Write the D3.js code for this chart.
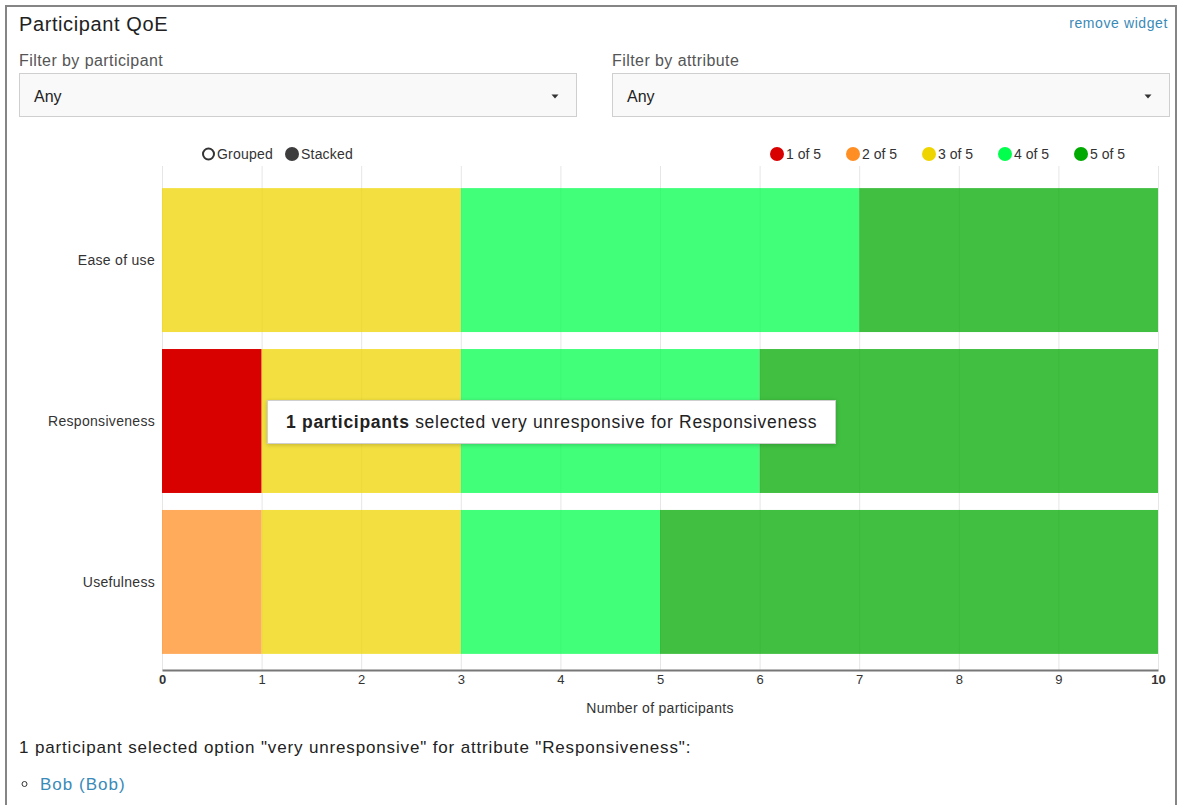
<!DOCTYPE html>
<html>
<head>
<meta charset="utf-8">
<script src="https://cdn.jsdelivr.net/npm/d3@7"></script>
<style>
  html, body { margin: 0; padding: 0; background: #fff; }
  svg { display: block; font-family: "Liberation Sans", Arial, sans-serif; }
</style>
</head>
<body>
<svg id="chart" width="1178" height="805"></svg>
<script>
// Survey attributes (rows) and rating levels (stack segments)
const attributes = ["Ease of use", "Responsiveness", "Usefulness"];
const ratingLevels = ["1 of 5", "2 of 5", "3 of 5", "4 of 5", "5 of 5"];
const levelColors = ["#d90000", "#ff8f24", "#efd500", "#03ff4d", "#00aa00"];

// Number of participants per rating, one array per level (order follows attributes)
const rating1 = [0, 1, 0];
const rating2 = [0, 0, 1];
const rating3 = [3, 2, 2];
const rating4 = [4, 3, 2];
const rating5 = [3, 4, 5];

const xTicks = [0, 1, 2, 3, 4, 5, 6, 7, 8, 9, 10];
const xMax = 10;

// Highlighted (hovered) segment
const hovered = { attr: "Responsiveness", level: "1 of 5" };

const rows = attributes.map((a, i) => ({
  attribute: a,
  "1 of 5": rating1[i], "2 of 5": rating2[i], "3 of 5": rating3[i],
  "4 of 5": rating4[i], "5 of 5": rating5[i]
}));

const svg = d3.select("#chart");

// widget frame
svg.append("path")
  .attr("d", "M6,805 V6 H1176 V805")
  .attr("fill", "none").attr("stroke", "#858585").attr("stroke-width", 2);

// header
svg.append("text").attr("x", 19).attr("y", 31)
  .attr("font-size", 20).attr("letter-spacing", 0.6).attr("fill", "#222")
  .text("Participant QoE");
svg.append("text").attr("x", 1168).attr("y", 28).attr("text-anchor", "end")
  .attr("font-size", 14).attr("letter-spacing", 0.6).attr("fill", "#3a8ab8")
  .text("remove widget");

// filter dropdowns
const filters = [
  { label: "Filter by participant", x: 19, w: 557 },
  { label: "Filter by attribute", x: 612, w: 557 }
];
filters.forEach(f => {
  svg.append("text").attr("x", f.x).attr("y", 66)
    .attr("font-size", 16).attr("letter-spacing", 0.43).attr("fill", "#555")
    .text(f.label);
  svg.append("rect").attr("x", f.x + 0.5).attr("y", 73.5)
    .attr("width", f.w).attr("height", 43)
    .attr("fill", "#f9f9f9").attr("stroke", "#cfcfcf");
  svg.append("text").attr("x", f.x + 15).attr("y", 102)
    .attr("font-size", 16).attr("fill", "#222").text("Any");
  const cx = f.x + f.w - 21;
  svg.append("path")
    .attr("d", `M${cx - 3.5},94.5 L${cx + 3.5},94.5 L${cx},98.5 Z`)
    .attr("fill", "#333");
});

// scales
const x = d3.scaleLinear().domain([0, xMax]).range([162, 1158]);
const y = d3.scaleBand().domain(attributes).range([172, 670])
  .paddingInner(0.1056).paddingOuter(0.1);
const color = d3.scaleOrdinal().domain(ratingLevels).range(levelColors);

// vertical grid
svg.append("g").selectAll("line").data(xTicks).join("line")
  .attr("x1", d => x(d) + 0.5).attr("x2", d => x(d) + 0.5)
  .attr("y1", 166).attr("y2", 670)
  .attr("stroke", "#e6e6e6").attr("stroke-width", 1);

// stacked bars
const series = d3.stack().keys(ratingLevels)(rows);
const layers = svg.append("g").selectAll("g").data(series).join("g")
  .attr("fill", d => color(d.key));
layers.selectAll("rect").data(d => d.map(v => ({ v, key: d.key }))).join("rect")
  .attr("x", d => x(d.v[0]))
  .attr("y", d => y(d.v.data.attribute))
  .attr("width", d => x(d.v[1]) - x(d.v[0]))
  .attr("height", y.bandwidth())
  .attr("fill-opacity", d =>
    d.key === hovered.level && d.v.data.attribute === hovered.attr ? 1 : 0.75);

// x axis
const xAxis = svg.append("g").attr("transform", "translate(0,670)")
  .call(d3.axisBottom(x).tickValues(xTicks).tickSize(0).tickPadding(5));
xAxis.select(".domain").attr("stroke", "#777").attr("stroke-width", 2);
xAxis.selectAll(".tick text")
  .attr("font-family", "Liberation Sans, Arial, sans-serif")
  .attr("font-size", 13).attr("fill", "#333")
  .attr("font-weight", d => (d === 0 || d === xMax) ? "bold" : "normal");

svg.append("text").attr("x", (x(0) + x(xMax)) / 2).attr("y", 713)
  .attr("text-anchor", "middle").attr("font-size", 14).attr("letter-spacing", 0.3)
  .attr("fill", "#333").text("Number of participants");

// y labels
svg.append("g").selectAll("text").data(attributes).join("text")
  .attr("x", 155).attr("y", d => y(d) + y.bandwidth() / 2)
  .attr("dy", "0.35em").attr("text-anchor", "end")
  .attr("font-size", 14).attr("letter-spacing", 0.3)
  .attr("fill", "#333").text(d => d);

// grouped / stacked toggle
const toggle = svg.append("g").attr("font-size", 14).attr("letter-spacing", 0.2)
  .attr("fill", "#333");
toggle.append("circle").attr("cx", 208.5).attr("cy", 154).attr("r", 5.5)
  .attr("fill", "#fff").attr("stroke", "#333").attr("stroke-width", 2);
toggle.append("text").attr("x", 217).attr("y", 159).text("Grouped");
toggle.append("circle").attr("cx", 292).attr("cy", 154).attr("r", 7)
  .attr("fill", "#3d3d3d");
toggle.append("text").attr("x", 301).attr("y", 159).text("Stacked");

// legend
const legendX = [777, 853, 929, 1005, 1081];
const legend = svg.append("g").selectAll("g").data(ratingLevels).join("g")
  .attr("transform", (d, i) => `translate(${legendX[i]},154)`);
legend.append("circle").attr("r", 7).attr("fill", d => color(d));
legend.append("text").attr("x", 9).attr("y", 5)
  .attr("font-size", 14).attr("fill", "#333").text(d => d);

// tooltip for hovered segment
const hv = rows.find(r => r.attribute === hovered.attr)[hovered.level];
const defs = svg.append("defs");
const f = defs.append("filter").attr("id", "shadow")
  .attr("x", -0.05).attr("y", -0.3).attr("width", 1.1).attr("height", 1.6);
f.append("feDropShadow").attr("dx", 0).attr("dy", 1).attr("stdDeviation", 2)
  .attr("flood-color", "#000").attr("flood-opacity", 0.2);
const tip = svg.append("g");
tip.append("rect").attr("x", 267.5).attr("y", 400.5).attr("width", 568).attr("height", 43)
  .attr("fill", "#fff").attr("stroke", "#cfcfcf").attr("filter", "url(#shadow)");
const tt = tip.append("text").attr("x", 286).attr("y", 428)
  .attr("font-size", 17.5).attr("letter-spacing", 0.7).attr("fill", "#222");
tt.append("tspan").attr("font-weight", "bold").text(`${hv} participants`);
tt.append("tspan").text(` selected very unresponsive for ${hovered.attr}`);

// selection summary
svg.append("text").attr("x", 19).attr("y", 753)
  .attr("font-size", 17).attr("letter-spacing", 0.85).attr("fill", "#222")
  .text(`${hv} participant selected option "very unresponsive" for attribute "${hovered.attr}":`);
svg.append("circle").attr("cx", 24.5).attr("cy", 784).attr("r", 2.5)
  .attr("fill", "none").attr("stroke", "#333").attr("stroke-width", 1);
svg.append("text").attr("x", 40).attr("y", 790)
  .attr("font-size", 17).attr("letter-spacing", 1).attr("fill", "#3a8ab8")
  .text("Bob (Bob)");
</script>
</body>
</html>
